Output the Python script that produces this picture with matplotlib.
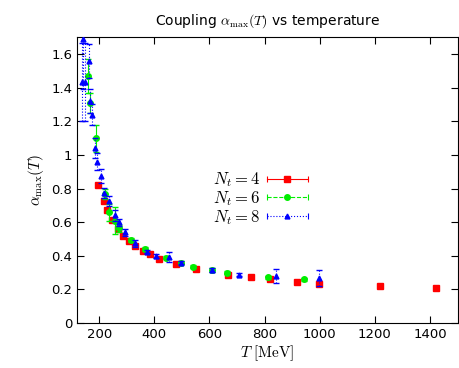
import numpy as np
import matplotlib
matplotlib.use("Agg")
import matplotlib.pyplot as plt
from matplotlib.legend_handler import HandlerLine2D
from matplotlib.lines import Line2D

plt.rcParams['mathtext.fontset'] = 'cm'
plt.rcParams['font.family'] = ['DejaVu Sans']

# N_t = 4
T4 = [196, 218, 229, 245, 268, 286, 308, 330, 360, 384, 417, 480, 550, 666,
      749, 818, 916, 999, 1219, 1420]
a4 = [0.820, 0.724, 0.673, 0.613, 0.560, 0.518, 0.488, 0.457, 0.429, 0.411,
      0.379, 0.349, 0.323, 0.284, 0.272, 0.260, 0.242, 0.235, 0.218, 0.207]
e4 = [0.01] * len(T4)

# N_t = 6
T6 = [160, 167, 190, 220, 237, 259, 273, 315, 365, 442, 498, 542, 608, 665, 811, 943]
a6 = [1.47, 1.31, 1.10, 0.768, 0.66, 0.61, 0.564, 0.494, 0.44, 0.39, 0.36,
      0.335, 0.315, 0.30, 0.272, 0.26]
e6 = [0.10, 0.06, 0.08, 0.03, 0.05, 0.08, 0.02, 0.01, 0.01, 0.01, 0.01,
      0.01, 0.01, 0.01, 0.01, 0.01]

# N_t = 8
T8 = [140, 137, 149, 163, 168, 174, 184, 192, 207, 219, 235, 256, 273, 295,
      331, 373, 407, 455, 498, 608, 707, 841, 998]
a8 = [1.69, 1.434, 1.434, 1.56, 1.32, 1.24, 1.04, 0.96, 0.875, 0.776, 0.726,
      0.64, 0.60, 0.54, 0.474, 0.424, 0.40, 0.395, 0.359, 0.315, 0.288, 0.28, 0.268]
e8 = [0.30, 0.23, 0.23, 0.10, 0.07, 0.06, 0.06, 0.05, 0.04, 0.03, 0.03,
      0.03, 0.02, 0.02, 0.02, 0.01, 0.01, 0.03, 0.01, 0.01, 0.01, 0.04, 0.045]


class CapHandler(HandlerLine2D):
    # gnuplot style key: horizontal line with end caps
    def create_artists(self, legend, orig_handle, xdescent, ydescent,
                       width, height, fontsize, trans):
        arts = super().create_artists(legend, orig_handle, xdescent, ydescent,
                                      width, height, fontsize, trans)
        y = (height - ydescent) / 2
        caps = Line2D([-xdescent, width - xdescent], [y, y], linestyle='none',
                      marker='|', markersize=5, color=orig_handle.get_color(),
                      markeredgewidth=0.8, transform=trans)
        return arts + [caps]


fig, ax = plt.subplots(figsize=(4.59, 3.68), dpi=100)
fig.subplots_adjust(left=0.168, right=0.997, bottom=0.122, top=0.899)

ax.errorbar(T4, a4, yerr=e4, fmt='s', color='#ff0000', ms=4.5, elinewidth=0.8,
            capsize=2, ls='none', zorder=3)
ax.errorbar(T6, a6, yerr=e6, fmt='o', color='#00ee00', ms=4, elinewidth=0.8,
            capsize=2, ls='none', zorder=4)
eb = ax.errorbar(T8, a8, yerr=e8, fmt='^', color='#0000ff', ms=3.5, elinewidth=0.8,
                 capsize=2, ls='none', zorder=5)
eb[2][0].set_linestyle(':')

h4 = Line2D([], [], color='#ff0000', marker='s', ms=4.5, lw=0.8, ls='-')
h6 = Line2D([], [], color='#00ee00', marker='o', ms=4, lw=0.8, ls='--')
h8 = Line2D([], [], color='#0000ff', marker='^', ms=3.5, lw=0.8, ls=':')
ax.legend([h4, h6, h8], ['$N_t = 4$', '$N_t = 6$', '$N_t = 8$'],
          handler_map={Line2D: CapHandler()}, loc='center right',
          bbox_to_anchor=(0.625, 0.435), frameon=False, markerfirst=False,
          handlelength=2.5, fontsize=12, labelspacing=0.0, handletextpad=0.4,
          borderaxespad=0)

ax.set_xlim(120, 1500)
ax.set_ylim(0, 1.7)
ax.set_xticks([200, 400, 600, 800, 1000, 1200, 1400])
ax.set_yticks([0, 0.2, 0.4, 0.6, 0.8, 1, 1.2, 1.4, 1.6])
ax.set_yticklabels(['0', '0.2', '0.4', '0.6', '0.8', '1', '1.2', '1.4', '1.6'])
ax.tick_params(direction='in', top=True, right=True, labelsize=9.5, length=5)

ax.set_xlabel(r'$T\ [\mathrm{MeV}]$', fontsize=11, labelpad=2)
ax.set_ylabel(r'$\alpha_{\max}(T)$', fontsize=11)
ax.set_title(r'Coupling $\alpha_{\max}(T)$ vs temperature', fontsize=10, pad=9)

fig.savefig('out.png', dpi=100)
